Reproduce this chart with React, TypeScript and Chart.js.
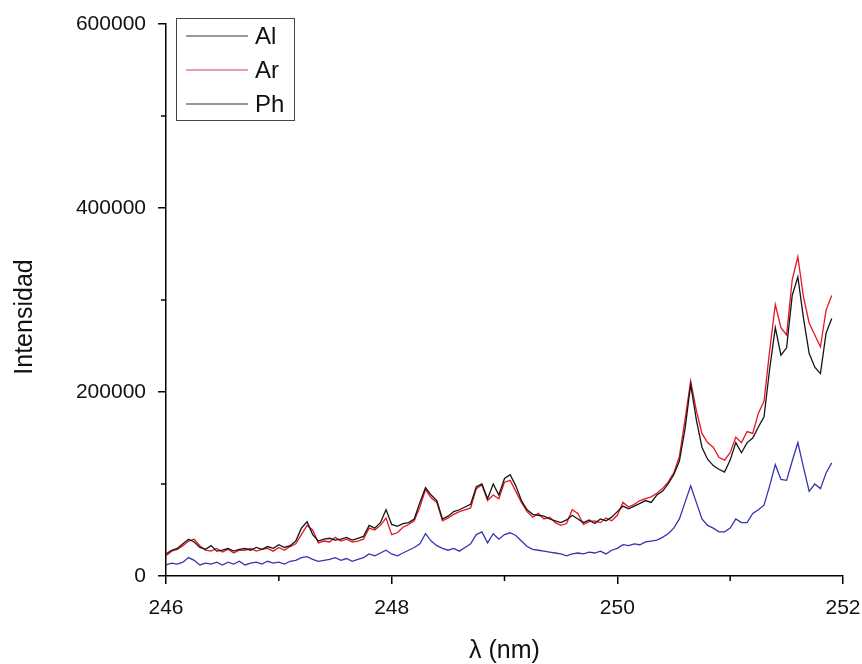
import React, { useEffect, useRef } from "react";
import { Chart, registerables } from "chart.js";

Chart.register(...registerables);

const wavelength = [
  246.0, 246.05, 246.1, 246.15, 246.2, 246.25, 246.3, 246.35, 246.4, 246.45,
  246.5, 246.55, 246.6, 246.65, 246.7, 246.75, 246.8, 246.85, 246.9, 246.95,
  247.0, 247.05, 247.1, 247.15, 247.2, 247.25, 247.3, 247.35, 247.4, 247.45,
  247.5, 247.55, 247.6, 247.65, 247.7, 247.75, 247.8, 247.85, 247.9, 247.95,
  248.0, 248.05, 248.1, 248.15, 248.2, 248.25, 248.3, 248.35, 248.4, 248.45,
  248.5, 248.55, 248.6, 248.65, 248.7, 248.75, 248.8, 248.85, 248.9, 248.95,
  249.0, 249.05, 249.1, 249.15, 249.2, 249.25, 249.3, 249.35, 249.4, 249.45,
  249.5, 249.55, 249.6, 249.65, 249.7, 249.75, 249.8, 249.85, 249.9, 249.95,
  250.0, 250.05, 250.1, 250.15, 250.2, 250.25, 250.3, 250.35, 250.4, 250.45,
  250.5, 250.55, 250.6, 250.65, 250.7, 250.75, 250.8, 250.85, 250.9, 250.95,
  251.0, 251.05, 251.1, 251.15, 251.2, 251.25, 251.3, 251.35, 251.4, 251.45,
  251.5, 251.55, 251.6, 251.65, 251.7, 251.75, 251.8, 251.85, 251.9,
];

const al = [
  24000, 28000, 30000, 35000, 40000, 37000, 31000, 29000, 33000, 27000,
  28000, 30000, 27000, 29000, 30000, 28000, 31000, 29000, 32000, 30000,
  34000, 31000, 33000, 38000, 52000, 59000, 45000, 38000, 40000, 41000,
  39000, 40000, 42000, 39000, 41000, 43000, 55000, 52000, 58000, 72000,
  56000, 54000, 57000, 58000, 62000, 80000, 96000, 88000, 82000, 62000,
  65000, 70000, 72000, 75000, 78000, 97000, 100000, 84000, 100000, 88000,
  106000, 110000, 98000, 82000, 72000, 67000, 66000, 65000, 62000, 60000,
  58000, 61000, 66000, 62000, 58000, 61000, 57000, 62000, 60000, 64000,
  70000, 76000, 73000, 76000, 79000, 82000, 80000, 88000, 92000, 100000,
  110000, 125000, 160000, 208000, 170000, 140000, 127000, 120000, 116000, 113000,
  126000, 145000, 134000, 145000, 150000, 162000, 173000, 225000, 270000, 240000,
  248000, 305000, 325000, 280000, 242000, 227000, 220000, 264000, 280000,
];

const ar = [
  22000, 27000, 29000, 33000, 38000, 40000, 33000, 28000, 27000, 30000,
  26000, 29000, 25000, 28000, 28000, 30000, 27000, 29000, 30000, 27000,
  31000, 28000, 32000, 35000, 45000, 55000, 50000, 36000, 38000, 37000,
  42000, 38000, 40000, 37000, 38000, 40000, 52000, 50000, 55000, 63000,
  45000, 47000, 53000, 56000, 60000, 75000, 94000, 85000, 80000, 60000,
  63000, 67000, 70000, 72000, 74000, 95000, 99000, 82000, 88000, 84000,
  102000, 104000, 92000, 80000, 70000, 64000, 68000, 62000, 64000, 58000,
  55000, 57000, 72000, 68000, 56000, 59000, 60000, 58000, 63000, 60000,
  66000, 80000, 75000, 78000, 82000, 84000, 86000, 90000, 95000, 102000,
  112000, 130000, 170000, 212000, 180000, 155000, 145000, 140000, 129000, 126000,
  134000, 151000, 145000, 157000, 155000, 177000, 190000, 245000, 295000, 270000,
  262000, 322000, 347000, 303000, 275000, 262000, 249000, 289000, 305000,
];

const ph = [
  12000, 14000, 13000, 15000, 20000, 17000, 12000, 14000, 13000, 15000,
  12000, 15000, 13000, 16000, 12000, 14000, 15000, 13000, 16000, 14000,
  15000, 13000, 16000, 17000, 20000, 21000, 18000, 16000, 17000, 18000,
  20000, 17000, 19000, 16000, 18000, 20000, 24000, 22000, 25000, 28000,
  24000, 22000, 25000, 28000, 31000, 35000, 46000, 38000, 33000, 30000,
  28000, 30000, 27000, 31000, 35000, 45000, 48000, 36000, 46000, 40000,
  45000, 47000, 44000, 38000, 32000, 29000, 28000, 27000, 26000, 25000,
  24000, 22000, 24000, 25000, 24000, 26000, 25000, 27000, 24000, 28000,
  30000, 34000, 33000, 35000, 34000, 37000, 38000, 39000, 42000, 46000,
  52000, 62000, 80000, 98000, 80000, 62000, 55000, 52000, 48000, 48000,
  52000, 62000, 58000, 58000, 68000, 72000, 77000, 98000, 121000, 105000,
  104000, 125000, 145000, 118000, 92000, 100000, 95000, 112000, 123000,
];

const seriesNames = ["Al", "Ar", "Ph"];
const seriesColors = ["#151515", "#e8141e", "#3535b0"];
const legendColors = ["#333333", "#d04050", "#333333"];
const xMajorTicks = [246, 248, 250, 252];
const xMinorTicks = [247, 249, 251];
const yMajorTicks = [0, 200000, 400000, 600000];
const yMinorTicks = [100000, 300000, 500000];
const xTitle = "λ (nm)";
const yTitle = "Intensidad";

const FONT = "'Liberation Sans', Arial, Helvetica, sans-serif";

export default function App() {
  const canvasRef = useRef<HTMLCanvasElement | null>(null);

  useEffect(() => {
    document.body.style.margin = "0";
    const canvas = canvasRef.current;
    if (!canvas) return;

    const extras = {
      id: "extras",
      afterDraw(chart: any) {
        const ctx = chart.ctx;
        const xs = chart.scales.x;
        const ys = chart.scales.y;
        const area = chart.chartArea;
        ctx.save();
        ctx.strokeStyle = "#000";
        ctx.lineWidth = 1.5;
        // minor ticks
        xMinorTicks.forEach((v) => {
          const px = xs.getPixelForValue(v);
          ctx.beginPath();
          ctx.moveTo(px, area.bottom);
          ctx.lineTo(px, area.bottom + 5);
          ctx.stroke();
        });
        yMinorTicks.forEach((v) => {
          const py = ys.getPixelForValue(v);
          ctx.beginPath();
          ctx.moveTo(area.left, py);
          ctx.lineTo(area.left - 5, py);
          ctx.stroke();
        });
        // axis titles
        ctx.fillStyle = "#111";
        ctx.font = `25px ${FONT}`;
        ctx.textAlign = "center";
        ctx.textBaseline = "middle";
        ctx.fillText(xTitle, (area.left + area.right) / 2, 651);
        ctx.save();
        ctx.translate(25, 317);
        ctx.rotate(-Math.PI / 2);
        ctx.fillText(yTitle, 0, 0);
        ctx.restore();
        // legend box
        const bx = area.left + 10;
        const by = area.top - 6;
        const bw = 118;
        const bh = 102;
        ctx.fillStyle = "#fff";
        ctx.fillRect(bx, by, bw, bh);
        ctx.strokeStyle = "#444";
        ctx.lineWidth = 1;
        ctx.strokeRect(bx + 0.5, by + 0.5, bw, bh);
        ctx.font = `24px ${FONT}`;
        ctx.textBaseline = "middle";
        ctx.textAlign = "left";
        seriesNames.forEach((name, i) => {
          const yy = by + 18 + i * 34;
          ctx.strokeStyle = legendColors[i];
          ctx.lineWidth = 1.2;
          ctx.beginPath();
          ctx.moveTo(bx + 10, yy);
          ctx.lineTo(bx + 72, yy);
          ctx.stroke();
          ctx.fillStyle = "#111";
          ctx.fillText(name, bx + 79, yy + 1);
        });
        ctx.restore();
      },
    };

    const datasets = [al, ar, ph].map((vals, i) => ({
      label: seriesNames[i],
      data: wavelength.map((w, j) => ({ x: w, y: vals[j] })),
      borderColor: seriesColors[i],
      borderWidth: 1.3,
      pointRadius: 0,
      tension: 0,
      fill: false,
    }));
    // draw Ph first, then Al, then Ar on top
    const ordered = [datasets[2], datasets[0], datasets[1]];

    const chart = new Chart(canvas, {
      type: "line",
      data: { datasets: ordered as any },
      plugins: [extras],
      options: {
        animation: false,
        responsive: false,
        maintainAspectRatio: false,
        layout: { padding: { left: 0, top: 24, right: 19, bottom: 0 } },
        plugins: {
          legend: { display: false },
          tooltip: { enabled: false },
        },
        scales: {
          x: {
            type: "linear",
            min: 246,
            max: 252,
            afterBuildTicks: (scale: any) => {
              scale.ticks = xMajorTicks.map((v) => ({ value: v }));
            },
            afterFit: (scale: any) => {
              scale.height = 88;
              scale.paddingLeft = 0;
              scale.paddingRight = 0;
            },
            ticks: {
              color: "#111",
              font: { family: FONT, size: 21 },
              padding: 12,
              maxRotation: 0,
              callback: (v: any) => String(v),
            },
            grid: {
              display: true,
              drawOnChartArea: false,
              drawTicks: true,
              tickLength: 8,
              color: "#000",
              lineWidth: 1.5,
            },
            border: { display: true, color: "#000", width: 1.5 },
          },
          y: {
            type: "linear",
            min: 0,
            max: 600000,
            afterBuildTicks: (scale: any) => {
              scale.ticks = yMajorTicks.map((v) => ({ value: v }));
            },
            afterFit: (scale: any) => {
              scale.width = 166;
              scale.paddingTop = 0;
              scale.paddingBottom = 0;
            },
            ticks: {
              color: "#111",
              font: { family: FONT, size: 21 },
              padding: 12,
              callback: (v: any) => String(v),
            },
            grid: {
              display: true,
              drawOnChartArea: false,
              drawTicks: true,
              tickLength: 8,
              color: "#000",
              lineWidth: 1.5,
            },
            border: { display: true, color: "#000", width: 1.5 },
          },
        },
      },
    });

    return () => {
      chart.destroy();
    };
  }, []);

  return (
    <div style={{ width: 862, height: 664, background: "#fff" }}>
      <canvas ref={canvasRef} width={862} height={664} style={{ display: "block" }} />
    </div>
  );
}
